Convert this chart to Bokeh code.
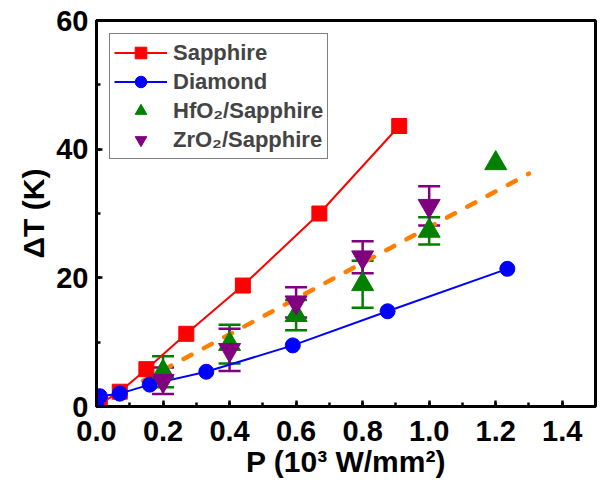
from bokeh.plotting import figure
from bokeh.models import (Range1d, SingleIntervalTicker, Whisker, ColumnDataSource,
                          TeeHead, Legend, LegendItem, PrintfTickFormatter)
from bokeh.embed import file_html
from bokeh.resources import INLINE

# ---- data ----
sapphire_x = [0.01, 0.07, 0.15, 0.27, 0.44, 0.67, 0.91]
sapphire_y = [0.4, 2.3, 5.8, 11.3, 18.8, 30.0, 43.6]

diamond_x = [0.0, 0.01, 0.07, 0.16, 0.33, 0.59, 0.875, 1.235]
diamond_y = [0.0, 1.6, 2.0, 3.4, 5.4, 9.5, 14.8, 21.4]

hfo2_x = [0.2, 0.4, 0.6, 0.8, 1.0, 1.2]
hfo2_y = [5.4, 9.7, 14.2, 19.0, 27.3, 37.8]
hfo2_err = [2.4, 3.0, 2.35, 3.65, 2.1, 0.0]

zro2_x = [0.2, 0.4, 0.6, 0.8, 1.0]
zro2_y = [4.0, 8.8, 16.2, 23.2, 31.2]
zro2_err = [2.05, 3.3, 2.35, 2.5, 3.05]

fit_x = [0.14, 1.30]
fit_y = [4.0, 36.2]

labels = ["Sapphire", "Diamond", "HfO\u2082/Sapphire", "ZrO\u2082/Sapphire"]
x_title = "P (10\u00b3 W/mm\u00b2)"
y_title = "\u0394T (K)"

FONT = "Liberation Sans"

p = figure(width=597, height=480,
           x_range=Range1d(0, 1.5), y_range=Range1d(0, 60),
           output_backend="svg", toolbar_location=None,
           min_border_left=96, min_border_right=2,
           min_border_top=20, min_border_bottom=74)

p.grid.visible = False
p.outline_line_color = "black"
p.outline_line_width = 3
p.background_fill_color = "white"
p.border_fill_color = "white"

p.xaxis.ticker = SingleIntervalTicker(interval=0.2, num_minor_ticks=2)
p.yaxis.ticker = SingleIntervalTicker(interval=20, num_minor_ticks=2)
p.xaxis.formatter = PrintfTickFormatter(format="%.1f")
p.yaxis.formatter = PrintfTickFormatter(format="%d")
for ax in (p.xaxis, p.yaxis):
    ax.axis_line_width = 3
    ax.axis_line_color = "black"
    ax.major_tick_in = 6
    ax.major_tick_out = 0
    ax.minor_tick_in = 4
    ax.minor_tick_out = 0
    ax.major_tick_line_width = 2.5
    ax.minor_tick_line_width = 2.5
    ax.major_label_text_font = FONT
    ax.major_label_text_font_style = "bold"
    ax.major_label_text_font_size = "29px"
    ax.major_label_text_color = "black"
    ax.axis_label_text_font = FONT
    ax.axis_label_text_font_style = "bold"
    ax.axis_label_text_font_size = "30px"
    ax.axis_label_text_color = "black"
p.xaxis.axis_label = x_title
p.yaxis.axis_label = y_title
p.xaxis.major_label_standoff = 14
p.yaxis.major_label_standoff = 8
p.xaxis.axis_label_standoff = 1
p.yaxis.axis_label_standoff = 3

# fitted dashed line
p.line(fit_x, fit_y, line_color="#FF8000", line_width=4.5,
       line_dash="9 14", line_cap="round")

# error bars
h_src = ColumnDataSource(dict(
    x=[x for x, e in zip(hfo2_x, hfo2_err) if e > 0],
    upper=[y + e for y, e in zip(hfo2_y, hfo2_err) if e > 0],
    lower=[y - e for y, e in zip(hfo2_y, hfo2_err) if e > 0]))
z_src = ColumnDataSource(dict(
    x=zro2_x,
    upper=[y + e for y, e in zip(zro2_y, zro2_err)],
    lower=[y - e for y, e in zip(zro2_y, zro2_err)]))
for src, col in ((h_src, "#008000"), (z_src, "#800080")):
    w = Whisker(base="x", upper="upper", lower="lower", source=src,
                line_color=col, line_width=2.5,
                upper_head=TeeHead(size=22, line_color=col, line_width=2.5),
                lower_head=TeeHead(size=22, line_color=col, line_width=2.5))
    p.add_layout(w)

s_line = p.line(sapphire_x, sapphire_y, line_color="#FF0000", line_width=2)
s_pts = p.scatter(sapphire_x, sapphire_y, marker="square", size=15,
                  fill_color="#FF0000", line_color="#FF0000")
d_line = p.line(diamond_x, diamond_y, line_color="#0000FF", line_width=2)
d_pts = p.scatter(diamond_x, diamond_y, marker="circle", size=15,
                  fill_color="#0000FF", line_color="#0000FF")
h_pts = p.scatter(hfo2_x, hfo2_y, marker="triangle", size=22,
                  fill_color="#008000", line_color="#008000")
z_pts = p.scatter(zro2_x, zro2_y, marker="inverted_triangle", size=22,
                  fill_color="#800080", line_color="#800080")

legend = Legend(items=[
    LegendItem(label=labels[0], renderers=[s_line, s_pts]),
    LegendItem(label=labels[1], renderers=[d_line, d_pts]),
    LegendItem(label=labels[2], renderers=[h_pts]),
    LegendItem(label=labels[3], renderers=[z_pts]),
], location="top_left")
legend.margin = 13
legend.padding = 4
legend.spacing = 0
legend.glyph_width = 53
legend.glyph_height = 29
legend.label_height = 29
legend.label_standoff = 6
legend.label_text_font = FONT
legend.label_text_font_style = "bold"
legend.label_text_font_size = "22px"
legend.border_line_color = "black"
legend.border_line_width = 1
legend.background_fill_alpha = 1
p.add_layout(legend)

open("out.html", "w").write(file_html(p, INLINE))
